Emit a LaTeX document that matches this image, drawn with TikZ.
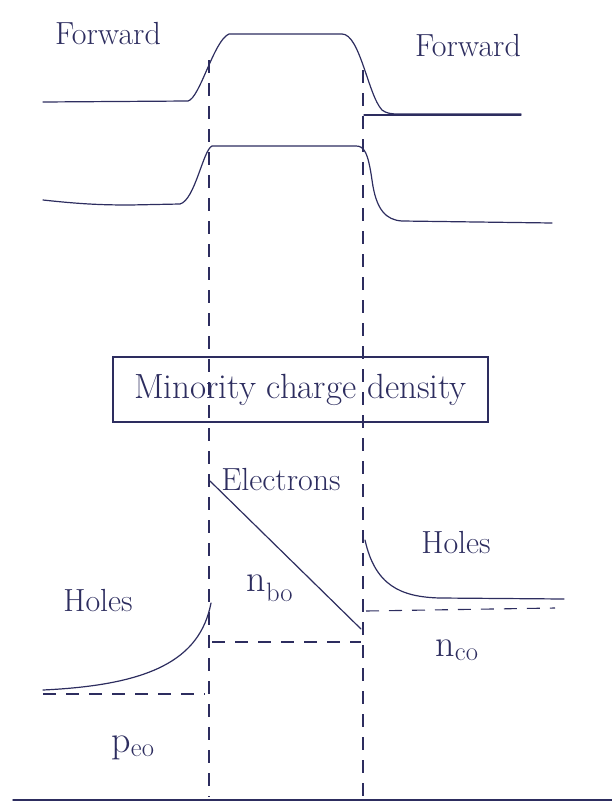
\documentclass[tikz,border=0pt]{standalone}
\usepackage{tikz}
\definecolor{ink}{RGB}{45,45,95}
\tikzset{
  curve/.style={draw=ink, line width=1.2pt, line cap=round, line join=round},
  guide/.style={draw=ink, line width=1.1pt, dash pattern=on 13pt off 10pt},
  lbl/.style={text=ink, font=\fontsize{32}{36}\selectfont, inner sep=0pt},
  symlbl/.style={text=ink, font=\fontsize{38}{42}\selectfont, inner sep=0pt},
  titlebox/.style={draw=ink, line width=1.1pt, text=ink, font=\fontsize{35}{40}\selectfont, minimum width=375pt, minimum height=65pt, inner sep=0pt}
}
\begin{document}
\begin{tikzpicture}[x=1pt,y=-1pt]
\useasboundingbox (0,0) rectangle (612,803);
% labels
\node[lbl] (fwdL) at (108,34) {Forward};
\node[lbl] (fwdR) at (468,46) {Forward};
\node[titlebox] (title) at (300.5,389.5) {Minority charge density};
\node[lbl] (elec) at (281,480) {Electrons};
\node[lbl] (holesR) at (456,543) {Holes};
\node[lbl] (holesL) at (98,601) {Holes};
\node[symlbl] (nbo) at (270,588) {n\textsubscript{bo}};
\node[symlbl] (nco) at (457,650) {n\textsubscript{co}};
\node[symlbl] (peo) at (133,748) {p\textsubscript{eo}};
% key coordinates
\coordinate (jL) at (209,60);
\coordinate (jLb) at (209,797);
\coordinate (jR) at (363,70);
\coordinate (jRb) at (363,797);
% vertical dashed guides
\draw[guide] (jL) -- (jLb);
\draw[guide] (jR) -- (jRb);
% first band curve
\draw[curve] (43,102) -- (188,101) .. controls (200,98) and (214,40) .. (229,34) -- (342,34)
  .. controls (360,34) and (368,95) .. (382,110) .. controls (386,113) and (390,114) .. (398,114) -- (521,114);
\draw[curve] (364,115) -- (521,115);
% second band curve
\draw[curve] (43,200) .. controls (80,204) and (100,205) .. (130,205) -- (180,204)
  .. controls (195,200) and (203,150) .. (212,146) -- (356,146)
  .. controls (364,146) and (368,152) .. (372,180) .. controls (376,210) and (386,220) .. (402,221) -- (552,223);
% electrons in base
\draw[curve] (210,481) -- (361,629);
% holes in collector
\draw[curve] (365,540) .. controls (375,585) and (400,597) .. (440,598) -- (564,599);
\draw[guide] (366,611) -- (555,608);
% holes in emitter
\draw[curve] (43,690) .. controls (150,685) and (200,660) .. (211,603);
\draw[guide] (212,642) -- (361,642);
\draw[guide] (43,694) -- (205,694);
% baseline
\draw[curve, line width=1.5pt] (13,800) -- (612,800);
\end{tikzpicture}
\end{document}
